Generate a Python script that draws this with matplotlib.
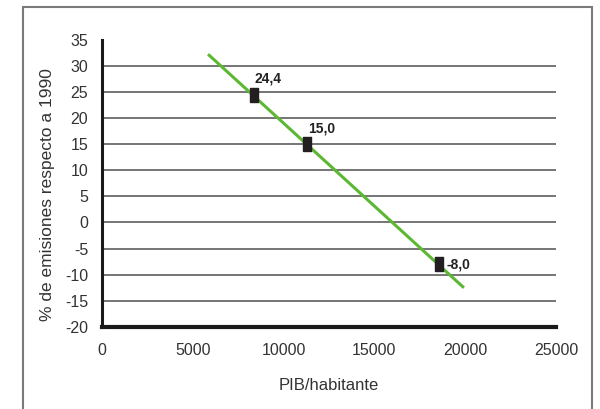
import numpy as np
import matplotlib
matplotlib.use('Agg')
import matplotlib.pyplot as plt
from matplotlib.patches import Rectangle

# 데이터
pib = [8370, 11290, 18560]
emisiones = [24.4, 15.0, -8.0]
etiquetas = ['24,4', '15,0', '-8,0']

# 추세선 양 끝점
trend_x = [5840, 19930]
trend_y = [32.2, -12.5]

x_ticks = [0, 5000, 10000, 15000, 20000, 25000]
y_ticks = [-20, -15, -10, -5, 0, 5, 10, 15, 20, 25, 30, 35]

plt.rcParams['font.family'] = ['Liberation Sans', 'DejaVu Sans']
plt.rcParams['axes.unicode_minus'] = False

W, H = 600, 409
fig = plt.figure(figsize=(6.0, 4.09), dpi=100)
ax = fig.add_axes([102 / W, 1 - 327 / H, (556 - 102) / W, (327 - 39.6) / H])

# 바깥 테두리 (아래쪽은 그림 밖으로 이어짐)
fig.patches.append(Rectangle((23 / W, -0.05), (592 - 23) / W, 1.05 - 7 / H,
                             transform=fig.transFigure, fill=False,
                             edgecolor='#7a7a7a', linewidth=1.5))

# 가로 격자선
for yv in y_ticks[1:-1]:
    ax.axhline(yv, color='#6a6a6a', linewidth=1.3, zorder=1)

ax.plot(trend_x, trend_y, color='#5cb833', linewidth=2.2, solid_capstyle='butt', zorder=2)

rect_marker = [(-1, -2), (1, -2), (1, 2), (-1, 2), (-1, -2)]
ax.plot(pib, emisiones, linestyle='none', marker=rect_marker, markersize=10.5,
        color='#231f20', zorder=3)

for i, (xv, yv, txt) in enumerate(zip(pib, emisiones, etiquetas)):
    if i == len(pib) - 1:
        ax.annotate(txt, (xv, yv), xytext=(5.5, 0), textcoords='offset points',
                    ha='left', va='center', fontsize=10, fontweight='bold', color='#222222')
    else:
        ax.annotate(txt, (xv, yv), xytext=(0.5, 6.5), textcoords='offset points',
                    ha='left', va='bottom', fontsize=10, fontweight='bold', color='#222222')

ax.set_xlim(0, 25000)
ax.set_ylim(-20, 35)
ax.set_xticks(x_ticks)
ax.set_yticks(y_ticks)
ax.tick_params(axis='both', length=0, labelsize=11.5, colors='#333333')
ax.tick_params(axis='y', pad=10)
ax.tick_params(axis='x', pad=11.5)

for s in ['top', 'right']:
    ax.spines[s].set_visible(False)
ax.spines['left'].set_linewidth(2.2)
ax.spines['bottom'].set_linewidth(3)
ax.spines['left'].set_color('#1a1a1a')
ax.spines['bottom'].set_color('#1a1a1a')

fig.text(329 / W, 1 - 386 / H, 'PIB/habitante', ha='center', va='center',
         fontsize=12, color='#333333')
fig.text(48 / W, 1 - 195 / H, '% de emisiones respecto a 1990', ha='center', va='center',
         rotation=90, fontsize=12.5, color='#333333')

fig.savefig('out.png', dpi=100)
